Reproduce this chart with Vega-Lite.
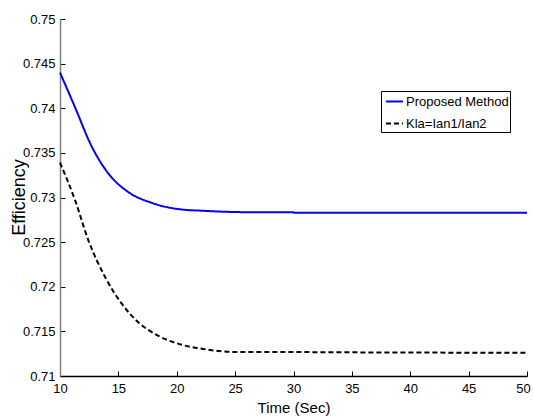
{
  "$schema": "https://vega.github.io/schema/vega-lite/v6.json",
  "autosize": "none",
  "width": 467,
  "height": 357,
  "padding": {"left": 60, "top": 19, "right": 6, "bottom": 42},
  "background": "white",
  "config": {
    "view": {"stroke": null},
    "font": "Liberation Sans",
    "axis": {"grid": false, "labelFont": "Liberation Sans", "labelFontSize": 13, "labelColor": "#000", "titleFont": "Liberation Sans", "titleFontSize": 15, "titleFontWeight": "normal", "titleColor": "#000", "tickColor": "#000", "tickSize": -5, "domainWidth": 1.5}
  },
  "data": {"values": [
    {"t": 10, "eff": 0.7440, "s": "Proposed Method"},
    {"t": 11.29, "eff": 0.7401, "s": "Proposed Method"},
    {"t": 12.72, "eff": 0.7357, "s": "Proposed Method"},
    {"t": 14.14, "eff": 0.7327, "s": "Proposed Method"},
    {"t": 15.86, "eff": 0.7306, "s": "Proposed Method"},
    {"t": 17.86, "eff": 0.7294, "s": "Proposed Method"},
    {"t": 20.14, "eff": 0.7287, "s": "Proposed Method"},
    {"t": 22.43, "eff": 0.7285, "s": "Proposed Method"},
    {"t": 26.43, "eff": 0.72835, "s": "Proposed Method"},
    {"t": 30, "eff": 0.72835, "s": "Proposed Method"},
    {"t": 30.01, "eff": 0.7283, "s": "Proposed Method"},
    {"t": 40, "eff": 0.7283, "s": "Proposed Method"},
    {"t": 50, "eff": 0.7283, "s": "Proposed Method"},
    {"t": 10, "eff": 0.7339, "s": "Kla=Ian1/Ian2"},
    {"t": 11.29, "eff": 0.7297, "s": "Kla=Ian1/Ian2"},
    {"t": 12.43, "eff": 0.7252, "s": "Kla=Ian1/Ian2"},
    {"t": 13.86, "eff": 0.7211, "s": "Kla=Ian1/Ian2"},
    {"t": 15.29, "eff": 0.7181, "s": "Kla=Ian1/Ian2"},
    {"t": 16.72, "eff": 0.7160, "s": "Kla=Ian1/Ian2"},
    {"t": 18.43, "eff": 0.7145, "s": "Kla=Ian1/Ian2"},
    {"t": 20.43, "eff": 0.7135, "s": "Kla=Ian1/Ian2"},
    {"t": 22.43, "eff": 0.7130, "s": "Kla=Ian1/Ian2"},
    {"t": 24.72, "eff": 0.7127, "s": "Kla=Ian1/Ian2"},
    {"t": 26.72, "eff": 0.7127, "s": "Kla=Ian1/Ian2"},
    {"t": 35, "eff": 0.71265, "s": "Kla=Ian1/Ian2"},
    {"t": 50, "eff": 0.7126, "s": "Kla=Ian1/Ian2"}
  ]},
  "mark": {"type": "line", "strokeWidth": 2, "interpolate": "monotone"},
  "encoding": {
    "x": {"field": "t", "type": "quantitative", "scale": {"domain": [10, 50], "nice": false, "zero": false},
      "axis": {"title": "Time (Sec)", "values": [10, 15, 20, 25, 30, 35, 40, 45, 50], "domainColor": "#000", "labelPadding": 11, "labelFlush": false,
        "labelOffset": {"condition": {"test": "datum.value == 50", "value": -4}, "value": 0},
        "titleY": 36, "titleBaseline": "alphabetic", "titleFontSize": 15}},
    "y": {"field": "eff", "type": "quantitative", "scale": {"domain": [0.71, 0.75], "nice": false, "zero": false},
      "axis": {"title": "Efficiency", "values": [0.71, 0.715, 0.72, 0.725, 0.73, 0.735, 0.74, 0.745, 0.75], "format": "~g", "domainColor": "#808080", "labelPadding": 10, "titleX": -41, "titleY": 178, "titleAngle": -90, "titleAlign": "center", "titleBaseline": "middle", "titleFontSize": 18}},
    "color": {"field": "s", "type": "nominal", "sort": ["Proposed Method", "Kla=Ian1/Ian2"],
      "scale": {"domain": ["Proposed Method", "Kla=Ian1/Ian2"], "range": ["#0000ff", "#000000"]},
      "legend": {"title": null, "orient": "none", "legendX": 321, "legendY": 72, "symbolType": "stroke", "symbolSize": 289, "symbolStrokeWidth": 2, "symbolOffset": 3, "labelFont": "Liberation Sans", "labelFontSize": 13, "labelColor": "#000", "strokeColor": "#000", "fillColor": "white", "padding": 1, "rowPadding": 5, "labelOffset": 2}},
    "strokeDash": {"field": "s", "type": "nominal", "sort": ["Proposed Method", "Kla=Ian1/Ian2"],
      "scale": {"domain": ["Proposed Method", "Kla=Ian1/Ian2"], "range": [[1, 0], [5, 3]]},
      "legend": {"title": null, "orient": "none", "legendX": 321, "legendY": 72, "symbolType": "stroke", "symbolSize": 289, "symbolStrokeWidth": 2, "symbolOffset": 3, "labelFont": "Liberation Sans", "labelFontSize": 13, "labelColor": "#000", "strokeColor": "#000", "fillColor": "white", "padding": 1, "rowPadding": 5, "labelOffset": 2}}
  }
}
